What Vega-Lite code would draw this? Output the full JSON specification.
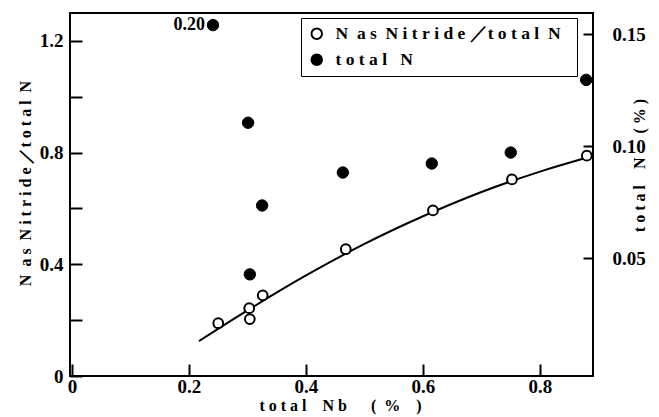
{
  "$schema": "https://vega.github.io/schema/vega-lite/v6.json",
  "width": 523,
  "height": 363,
  "autosize": {"type": "none"},
  "padding": {"left": 70, "top": 13, "right": 66, "bottom": 41},
  "background": "white",
  "config": {
    "view": {"stroke": "black", "strokeWidth": 2},
    "font": "Liberation Serif",
    "axis": {
      "domain": false,
      "grid": false,
      "tickColor": "black",
      "tickWidth": 2,
      "labelColor": "black",
      "labelFont": "Liberation Serif",
      "labelFontSize": 19,
      "labelFontWeight": "bold",
      "titleColor": "black",
      "titleFont": "Liberation Serif",
      "titleFontSize": 16,
      "titleFontWeight": "bold"
    }
  },
  "datasets": {
    "curve": [
      {"nb": 0.217, "r": 0.125},
      {"nb": 0.3, "r": 0.235},
      {"nb": 0.4, "r": 0.36},
      {"nb": 0.5, "r": 0.473},
      {"nb": 0.6, "r": 0.572},
      {"nb": 0.7, "r": 0.659},
      {"nb": 0.8, "r": 0.732},
      {"nb": 0.89, "r": 0.788}
    ],
    "ratio": [
      {"nb": 0.25, "r": 0.189, "series": "ratio"},
      {"nb": 0.303, "r": 0.243, "series": "ratio"},
      {"nb": 0.304, "r": 0.204, "series": "ratio"},
      {"nb": 0.326, "r": 0.289, "series": "ratio"},
      {"nb": 0.468, "r": 0.454, "series": "ratio"},
      {"nb": 0.617, "r": 0.593, "series": "ratio"},
      {"nb": 0.752, "r": 0.704, "series": "ratio"},
      {"nb": 0.88, "r": 0.789, "series": "ratio"}
    ],
    "totaln": [
      {"nb": 0.241, "n": 0.154, "series": "total", "label": "0.20"},
      {"nb": 0.301, "n": 0.1105, "series": "total", "label": ""},
      {"nb": 0.325, "n": 0.0736, "series": "total", "label": ""},
      {"nb": 0.304, "n": 0.0429, "series": "total", "label": ""},
      {"nb": 0.463, "n": 0.0883, "series": "total", "label": ""},
      {"nb": 0.615, "n": 0.0923, "series": "total", "label": ""},
      {"nb": 0.75, "n": 0.0972, "series": "total", "label": ""},
      {"nb": 0.879, "n": 0.1296, "series": "total", "label": ""}
    ]
  },
  "encoding": {
    "x": {
      "field": "nb",
      "type": "quantitative",
      "scale": {"domain": [-0.0034, 0.8906], "nice": false, "zero": false},
      "axis": {
        "values": [0, 0.2, 0.4, 0.6, 0.8],
        "labelExpr": "datum.value == 0 ? '0' : format(datum.value, '.1f')",
        "tickSize": -12,
        "labelPadding": 13,
        "title": "t\u2005o\u2005t\u2005a\u2005l\u2003N\u2005b\u2003\u2002(\u2002%\u2003)",
        "titleX": 270,
        "titleY": 29,
        "titleBaseline": "middle",
        "titleAlign": "center"
      }
    }
  },
  "layer": [
    {
      "encoding": {
        "y": {
          "field": "r",
          "type": "quantitative",
          "scale": {"domain": [0, 1.3], "nice": false, "zero": false},
          "axis": {
            "orient": "left",
            "values": [0, 0.2, 0.4, 0.6, 0.8, 1.0, 1.2],
            "labelExpr": "indexof([0, 0.4, 0.8, 1.2], datum.value) >= 0 ? (datum.value == 0 ? '0' : format(datum.value, '.1f')) : ''",
            "tickSize": -12,
            "labelPadding": 19,
            "title": "N\u2002a\u2005s\u2002N\u2005i\u2005t\u2005r\u2005i\u2005d\u2005e\u2005／t\u2005o\u2005t\u2005a\u2005l\u2002N",
            "titleX": -45,
            "titleY": 170,
            "titleAngle": 270,
            "titleBaseline": "middle",
            "titleAlign": "center"
          }
        }
      },
      "layer": [
        {
          "data": {"name": "curve"},
          "mark": {"type": "line", "color": "black", "strokeWidth": 2, "interpolate": "monotone"},
          "encoding": {}
        },
        {
          "data": {"name": "ratio"},
          "mark": {"type": "point", "shape": "circle", "filled": true, "stroke": "black", "strokeWidth": 2, "size": 95, "opacity": 1},
          "encoding": {
            "fill": {
              "field": "series",
              "type": "nominal",
              "scale": {"domain": ["ratio", "total"], "range": ["white", "black"]},
              "legend": {
                "orient": "none",
                "legendX": 231,
                "legendY": 5,
                "title": null,
                "strokeColor": "black",
                "padding": 7,
                "symbolType": "circle",
                "symbolSize": 110,
                "symbolStrokeColor": "black",
                "symbolStrokeWidth": 2,
                "labelFont": "Liberation Serif",
                "labelFontSize": 17.5,
                "labelFontWeight": "bold",
                "labelColor": "black",
                "labelLimit": 400,
                "labelOffset": 10,
                "rowPadding": 7,
                "labelExpr": "datum.value == 'ratio' ? 'N\u2002a\u2005s\u2002N\u2005i\u2005t\u2005r\u2005i\u2005d\u2005e\u2005／t\u2005o\u2005t\u2005a\u2005l\u2002N\u2002\u200b' : '\u2002\u2005t\u2005o\u2005t\u2005a\u2005l\u2002\u2005N'"
              }
            }
          }
        }
      ]
    },
    {
      "data": {"name": "totaln"},
      "encoding": {
        "y": {
          "field": "n",
          "type": "quantitative",
          "scale": {"domain": [-0.0024, 0.1594], "nice": false, "zero": false},
          "axis": {
            "orient": "right",
            "values": [0.05, 0.1, 0.15],
            "format": ".2f",
            "tickSize": -10,
            "labelPadding": 29,
            "title": "t\u2005o\u2005t\u2005a\u2005l\u2003N\u2003\u2002(\u2005%\u2005)",
            "titleX": 46,
            "titleY": 152,
            "titleAngle": 270,
            "titleBaseline": "middle",
            "titleAlign": "center"
          }
        }
      },
      "layer": [
        {
          "mark": {"type": "point", "shape": "circle", "filled": true, "stroke": "black", "strokeWidth": 1, "size": 130, "opacity": 1},
          "encoding": {
            "fill": {"field": "series", "type": "nominal"}
          }
        },
        {
          "mark": {"type": "text", "align": "right", "baseline": "middle", "dx": -8, "font": "Liberation Serif", "fontSize": 18, "fontWeight": "bold", "color": "black"},
          "encoding": {"text": {"field": "label"}}
        }
      ]
    }
  ],
  "resolve": {"scale": {"y": "independent"}, "axis": {"y": "independent"}}
}
